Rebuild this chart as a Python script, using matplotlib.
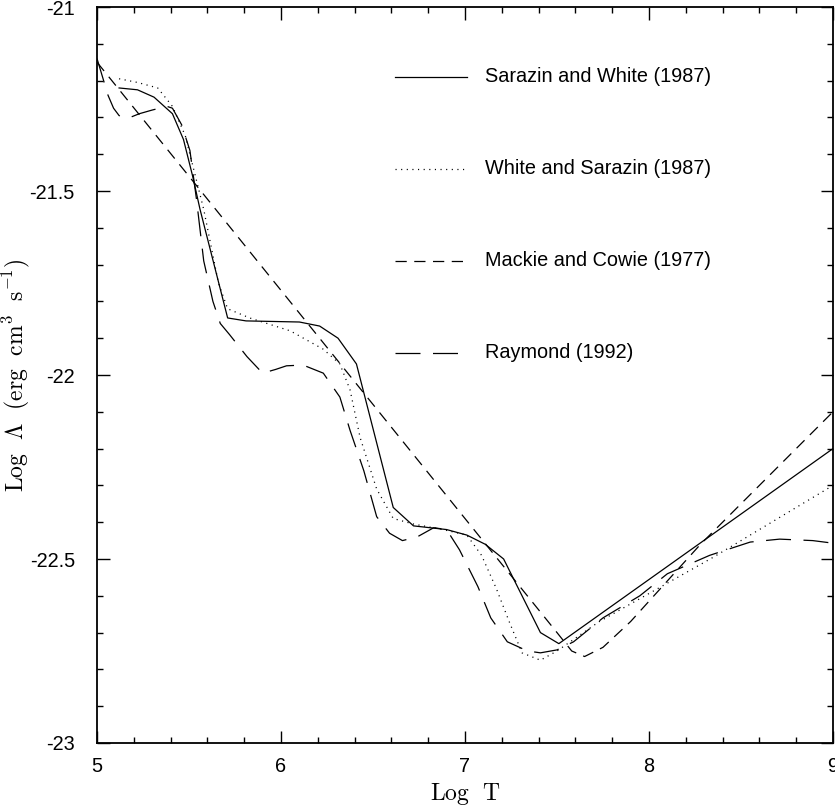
import numpy as np
import matplotlib
matplotlib.use("Agg")
import matplotlib.pyplot as plt

plt.rcParams['mathtext.fontset'] = 'cm'

# Sarazin and White (1987)
sw_x = [5.12, 5.22, 5.31, 5.41, 5.47, 5.52, 5.56, 5.71, 5.81, 6.10, 6.21, 6.31, 6.41,
        6.61, 6.72, 6.90, 7.01, 7.11, 7.21, 7.41, 7.51, 9.0]
sw_y = [-21.22, -21.225, -21.245, -21.29, -21.36, -21.46, -21.55, -21.845, -21.853, -21.856,
        -21.867, -21.90, -21.97, -22.36, -22.41, -22.42, -22.435, -22.46, -22.50, -22.70,
        -22.73, -22.20]

# White and Sarazin (1987)
ws_x = [5.12, 5.22, 5.33, 5.41, 5.48, 5.53, 5.58, 5.66, 5.71, 5.83, 6.05, 6.23, 6.32,
        6.375, 6.43, 6.52, 6.61, 6.72, 6.88, 7.01, 7.09, 7.17, 7.24, 7.31, 7.41, 7.50,
        7.73, 8.35, 9.0]
ws_y = [-21.195, -21.205, -21.22, -21.27, -21.35, -21.45, -21.55, -21.75, -21.82, -21.845,
        -21.88, -21.93, -21.97, -22.04, -22.17, -22.31, -22.39, -22.405, -22.42, -22.435,
        -22.49, -22.58, -22.67, -22.755, -22.775, -22.75, -22.67, -22.495, -22.30]

# Mackie and Cowie (1977)
mc_x = [5.0, 7.50, 7.58, 7.65, 7.75, 7.90, 8.28, 9.0]
mc_y = [-21.15, -22.70, -22.75, -22.765, -22.74, -22.67, -22.46, -22.10]

# Raymond (1992)
ry_x = [5.0, 5.03, 5.06, 5.09, 5.12, 5.15, 5.18, 5.23, 5.30, 5.38, 5.41, 5.46, 5.505, 5.54,
        5.58, 5.63, 5.67, 5.72, 5.815, 5.90, 5.97, 6.03, 6.12, 6.23, 6.32, 6.375, 6.45,
        6.52, 6.59, 6.66, 6.74, 6.83, 6.90, 6.97, 7.07, 7.14, 7.23, 7.34, 7.41, 7.50,
        7.59, 7.75, 7.95, 8.10, 8.33, 8.55, 8.71, 8.89, 9.0]
ry_y = [-21.14, -21.19, -21.24, -21.275, -21.295, -21.302, -21.30, -21.29, -21.28, -21.27,
        -21.275, -21.32, -21.39, -21.52, -21.69, -21.80, -21.86, -21.89, -21.95, -21.995,
        -21.985, -21.975, -21.973, -21.995, -22.06, -22.15, -22.26, -22.385, -22.43, -22.45,
        -22.44, -22.415, -22.42, -22.475, -22.575, -22.66, -22.725, -22.75, -22.755,
        -22.747, -22.725, -22.66, -22.60, -22.54, -22.49, -22.454, -22.446, -22.45, -22.457]

labels = ["Sarazin and White (1987)", "White and Sarazin (1987)",
          "Mackie and Cowie (1977)", "Raymond (1992)"]
styles = [dict(linestyle='-'), dict(dashes=(0.9, 3.6)),
          dict(dashes=(9, 6)), dict(dashes=(20, 10))]
series = [(sw_x, sw_y), (ws_x, ws_y), (mc_x, mc_y), (ry_x, ry_y)]

fig = plt.figure(figsize=(8.35, 8.07), dpi=100)
ax = fig.add_axes([97/835, 64/807, 736/835, 736/807])

for (xs, ys), st in zip(series, styles):
    ax.plot(xs, ys, color='black', lw=0.9, **st)

# legend drawn by hand inside the plot
leg_y = [-21.19, -21.44, -21.69, -21.94]
for ly, lab, st in zip(leg_y, labels, styles):
    ax.plot([6.62, 7.01], [ly, ly], color='black', lw=0.9, **st)
    ax.text(7.11, ly, lab, fontsize=14.3, family='Liberation Sans', va='center', ha='left')

ax.set_xlim(5, 9)
ax.set_ylim(-23, -21)
ax.set_xticks([5, 6, 7, 8, 9])
ax.set_xticklabels(['5', '6', '7', '8', '9'])
ax.set_yticks([-23, -22.5, -22, -21.5, -21])
ax.set_yticklabels(['-23', '-22.5', '-22', '-21.5', '-21'])
ax.set_xticks(np.arange(5, 9.01, 0.2), minor=True)
ax.set_yticks(np.arange(-23, -20.99, 0.1), minor=True)
ax.tick_params(which='both', direction='in', top=True, right=True, width=1)
ax.tick_params(which='major', length=9, labelsize=14.3)
ax.tick_params(axis='y', which='major', pad=16)
ax.tick_params(axis='x', which='major', pad=10)
ax.tick_params(which='minor', length=4.5)
for lab in ax.get_xticklabels() + ax.get_yticklabels():
    lab.set_family('Liberation Sans')
for sp in ax.spines.values():
    sp.set_linewidth(1.3)

ax.set_xlabel(r'$\mathrm{Log\ \ T}$', fontsize=17)
ax.set_ylabel(r'$\mathrm{Log}\ \ \Lambda\ \ \mathrm{(erg\ \ cm^3\ \ s^{-1})}$', fontsize=17)
ax.xaxis.set_label_coords(0.5, -0.051)
ax.yaxis.set_label_coords(-0.088, 0.5)

fig.savefig('out.png', dpi=100)
